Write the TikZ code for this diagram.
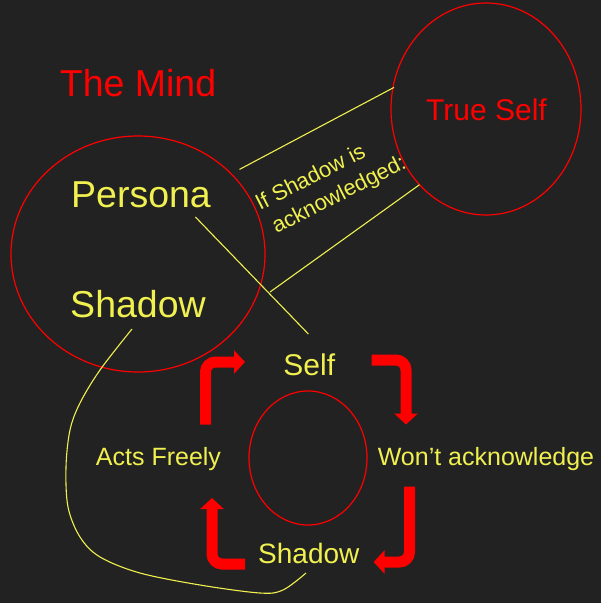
\documentclass[tikz,border=0pt]{standalone}
\usepackage{fontspec}
\setmainfont{Liberation Sans}
\usetikzlibrary{arrows.meta}
\definecolor{bg}{RGB}{34,34,34}
\definecolor{txtyellow}{RGB}{240,240,80}
\definecolor{mindred}{RGB}{255,0,0}
\tikzset{
  ring/.style={draw=mindred, line width=1.2pt},
  ylabel/.style={text=txtyellow, inner sep=0pt, anchor=base},
  rlabel/.style={text=mindred, inner sep=0pt, anchor=base},
  acklabel/.style={text=txtyellow, inner sep=0pt, anchor=base west, rotate=27, font=\fs{22}},
  yline/.style={draw=txtyellow, line width=1.1pt},
  cyclearrow/.style={draw=mindred, line width=11pt, rounded corners=10pt,
    -{Triangle[length=11pt,width=23pt]}},
}
\newcommand{\fs}[1]{\fontsize{#1}{#1}\selectfont}
\begin{document}
\begin{tikzpicture}[x=1pt,y=-1pt]
\fill[bg] (0,0) rectangle (601,603);
\useasboundingbox (0,0) rectangle (601,603);

% circles
\draw[ring] (138,254) ellipse [x radius=127pt, y radius=118pt];
\draw[ring] (486,109) ellipse [x radius=95pt, y radius=106pt];
\draw[ring] (308,458) ellipse [x radius=59pt, y radius=67pt];

% labels
\node[rlabel, font=\fs{37.5}] (mind) at (138,96) {The Mind};
\node[rlabel, font=\fs{30}] (trueself) at (486.5,120) {True Self};
\node[ylabel, font=\fs{37.5}] (persona) at (141,207) {Persona};
\node[ylabel, font=\fs{37.5}] (shadowA) at (138,317) {Shadow};
\node[ylabel, font=\fs{30}] (self) at (309.3,375) {Self};
\node[ylabel, font=\fs{25}] (acts) at (158.5,465) {Acts Freely};
\node[ylabel, font=\fs{25}] (wont) at (486,465) {Won’t acknowledge};
\node[ylabel, font=\fs{28}] (shadowB) at (308.8,563) {Shadow};

% rotated label
\node[acklabel] (ack1) at (260,211) {If Shadow is};
\node[acklabel] (ack2) at (276.5,234) {acknowledged:};

% yellow connectors
\coordinate (u1) at (239.5,169.4);
\coordinate (u2) at (394,87.4);
\coordinate (l1) at (270,292);
\coordinate (l2) at (419.5,184.7);
\coordinate (p1) at (195.4,217);
\coordinate (p2) at (308.4,334);
\coordinate (s1) at (132,329);
\coordinate (s2) at (306,573);
\draw[yline] (u1) -- (u2);
\draw[yline] (l1) -- (l2);
\draw[yline] (p1) -- (p2);
\draw[yline] plot[smooth, tension=0.55] coordinates {(s1) (100,370) (80,403) (70,430) (66,467) (68,507) (80,537) (100,557) (140,573) (200,585) (260,593) (283,590) (s2)};

% cycle arrows
\coordinate (a1) at (205.5,424.5);
\coordinate (a2) at (245,362);
\coordinate (b1) at (371.7,360);
\coordinate (b2) at (406,424.5);
\coordinate (c1) at (409.5,486.6);
\coordinate (c2) at (373.6,562);
\coordinate (d1) at (245,564);
\coordinate (d2) at (212,498);
\draw[cyclearrow] (a1) |- (a2);
\draw[cyclearrow] (b1) -| (b2);
\draw[cyclearrow] (c1) |- (c2);
\draw[cyclearrow] (d1) -| (d2);
\end{tikzpicture}
\end{document}
